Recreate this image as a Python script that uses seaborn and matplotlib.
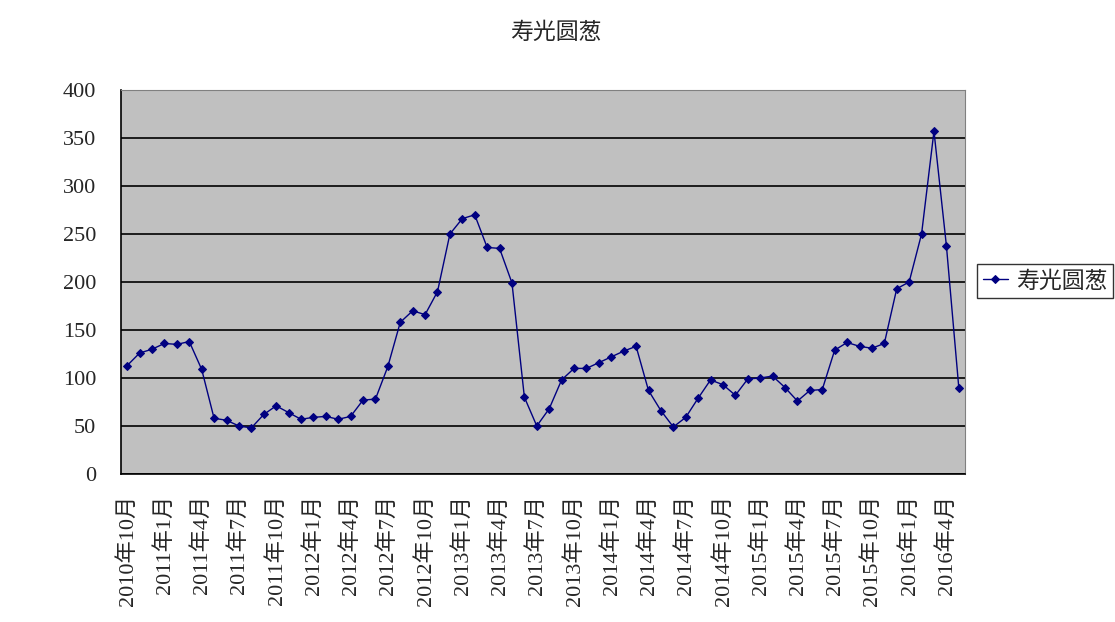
import numpy as np
import pandas as pd
import matplotlib
matplotlib.use("Agg")
import matplotlib.pyplot as plt
import seaborn as sns

# monthly prices, 2010-10 .. 2016-5
months = [f"{y}年{m}月" for y in range(2010, 2017) for m in range(1, 13)]
months = months[months.index("2010年10月"):months.index("2016年5月") + 1]
values = [113, 126, 130, 136, 135, 138, 109, 58, 56, 50, 48, 62, 71, 64, 57, 59, 60, 57,
          60, 77, 78, 112, 158, 170, 166, 190, 250, 266, 270, 236, 235, 199, 80, 50, 68,
          98, 110, 110, 116, 122, 128, 133, 87, 66, 49, 59, 79, 98, 93, 82, 99, 100, 102,
          90, 76, 87, 88, 129, 137, 133, 131, 136, 193, 200, 250, 357, 238, 90]
series_name = "寿光圆葱"

df = pd.DataFrame({"idx": np.arange(len(values)), "month": months, "value": values})

sns.set_style("white")
plt.rcParams['font.family'] = ['Liberation Serif', 'Noto Sans CJK SC', 'DejaVu Sans']

fig = plt.figure(figsize=(11.15, 6.22), dpi=100)
ax = fig.add_axes([121 / 1115, 1 - 474 / 622, (965 - 121) / 1115, (474 - 90) / 622])
ax.set_facecolor("#C0C0C0")

sns.lineplot(data=df, x="idx", y="value", ax=ax, color="#000080", lw=1,
             marker="D", markersize=4.5, markeredgecolor="#000080", label=series_name)

ax.set_xlim(-0.5, len(values) - 0.5)
ax.set_ylim(0, 400)
ax.set_yticks(range(0, 401, 50))
ax.yaxis.grid(True, color="black", lw=1.2)
ax.set_axisbelow(True)

lab_idx = list(range(0, len(values), 3))
ax.set_xticks(lab_idx)
ax.set_xticklabels([months[i] for i in lab_idx], rotation=90, va="top", ha="center")
ax.set_xticks([i + 2.5 for i in range(0, len(values) - 3, 3)], minor=True)
ax.tick_params(axis="x", which="major", length=0, pad=15, labelsize=16)
ax.tick_params(axis="x", which="minor", length=7, direction="in", width=1.2, color="black")
ax.tick_params(axis="y", length=0, pad=18, labelsize=16)
ax.set_xlabel("")
ax.set_ylabel("")

for s in ["top", "right"]:
    ax.spines[s].set_color("#808080")
for s in ["left", "bottom"]:
    ax.spines[s].set_color("black")
    ax.spines[s].set_linewidth(1.2)

ax.get_legend().remove()
handles, labels = ax.get_legend_handles_labels()
leg = fig.legend(handles, labels, loc="center left", bbox_to_anchor=(977 / 1115, 1 - 281 / 622),
                 borderaxespad=0, frameon=True, fancybox=False, edgecolor="black",
                 handlelength=1.1, borderpad=0.25, handletextpad=0.35,
                 prop={"family": ["Noto Sans CJK SC"], "size": 16.5})
leg.get_frame().set_linewidth(1.0)

fig.text(556 / 1115, 1 - 32 / 622, series_name, ha="center", va="center",
         fontsize=16.5, family=["Noto Sans CJK SC"])

fig.savefig("out.png", dpi=100)
